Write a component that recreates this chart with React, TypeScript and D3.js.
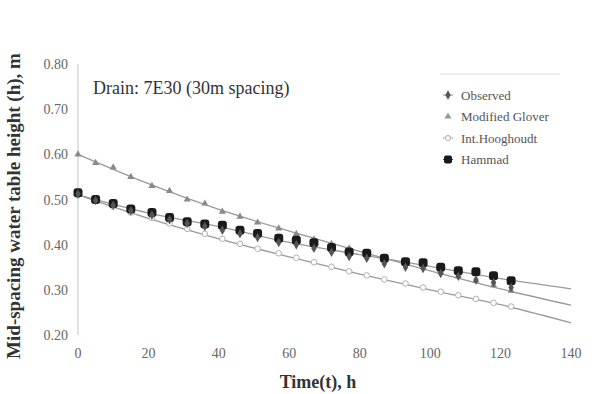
import { useRef, useEffect } from "react";
import * as d3 from "d3";

// sampling times (h)
const times = [0, 5, 10, 15, 21, 26, 31, 36, 41, 46, 51, 57, 62, 67, 72, 77, 82, 87, 93, 98, 103, 108, 113, 118, 123];

const observed = [0.512, 0.498, 0.487, 0.475, 0.465, 0.455, 0.447, 0.44, 0.432, 0.424, 0.416, 0.405, 0.4, 0.392, 0.383, 0.374, 0.37, 0.358, 0.35, 0.347, 0.336, 0.33, 0.322, 0.316, 0.305];
const glover = [0.6, 0.581, 0.571, 0.55, 0.53, 0.519, 0.5, 0.491, 0.473, 0.462, 0.449, 0.436, 0.424, 0.412, 0.402, 0.392, 0.381, 0.371, 0.36, 0.35, 0.34, 0.33, 0.32, 0.31, 0.298];
const hooghoudt = [0.51, 0.497, 0.484, 0.471, 0.459, 0.447, 0.435, 0.424, 0.413, 0.402, 0.391, 0.381, 0.371, 0.361, 0.351, 0.341, 0.332, 0.323, 0.314, 0.305, 0.296, 0.288, 0.28, 0.271, 0.263];
const hammad = [0.515, 0.5, 0.491, 0.479, 0.471, 0.46, 0.451, 0.446, 0.443, 0.432, 0.425, 0.414, 0.41, 0.404, 0.394, 0.384, 0.381, 0.37, 0.362, 0.36, 0.35, 0.342, 0.34, 0.331, 0.32];

// trend lines drawn out to 140 h
const lineTimes = [0, 20, 40, 60, 80, 100, 120, 140];
const hammadLine = [0.51, 0.47, 0.44, 0.405, 0.378, 0.352, 0.325, 0.302];
const gloverLine = [0.6, 0.535, 0.478, 0.43, 0.385, 0.342, 0.302, 0.266];
const hooghoudtLine = [0.51, 0.458, 0.413, 0.373, 0.335, 0.3, 0.267, 0.227];

const xTicks = [0, 20, 40, 60, 80, 100, 120, 140];
const yTicks = [0.2, 0.3, 0.4, 0.5, 0.6, 0.7, 0.8];
const legendNames = ["Observed", "Modified Glover", "Int.Hooghoudt", "Hammad"];

const width = 598;
const height = 394;
const font = "Liberation Serif, Times New Roman, serif";

const App = () => {
  const svgRef = useRef<SVGSVGElement>(null);

  useEffect(() => {
    document.body.style.margin = "0";
    const svg = d3.select(svgRef.current);
    svg.selectAll("*").remove();

    const x = d3.scaleLinear().domain([0, 140]).range([78, 571]);
    const y = d3.scaleLinear().domain([0.2, 0.8]).range([335, 64]);

    // y axis line
    svg.append("line")
      .attr("x1", x(0)).attr("x2", x(0))
      .attr("y1", y(0.8)).attr("y2", y(0.2))
      .attr("stroke", "#d8d8d8").attr("stroke-width", 1.5);

    svg.append("g")
      .selectAll("text")
      .data(yTicks)
      .join("text")
      .attr("x", 68)
      .attr("y", (d) => y(d) + 5)
      .attr("text-anchor", "end")
      .style("font-family", font)
      .attr("font-size", 14)
      .attr("fill", "#666")
      .text((d) => d.toFixed(2));

    svg.append("g")
      .selectAll("text")
      .data(xTicks)
      .join("text")
      .attr("x", (d) => x(d))
      .attr("y", 358)
      .attr("text-anchor", "middle")
      .style("font-family", font)
      .attr("font-size", 14)
      .attr("fill", "#666")
      .text((d) => d);

    // axis titles
    svg.append("text")
      .attr("x", 318).attr("y", 388)
      .attr("text-anchor", "middle")
      .style("font-family", font).attr("font-size", 18).attr("font-weight", "bold")
      .attr("fill", "#333")
      .text("Time(t), h");

    svg.append("text")
      .attr("transform", "translate(20,206) rotate(-90)")
      .attr("text-anchor", "middle")
      .style("font-family", font).attr("font-size", 19).attr("font-weight", "bold")
      .attr("fill", "#333")
      .text("Mid-spacing water table height (h), m");

    svg.append("text")
      .attr("x", 93).attr("y", 94)
      .style("font-family", font).attr("font-size", 18)
      .attr("fill", "#333")
      .text("Drain: 7E30 (30m spacing)");

    // lines
    const line = d3.line<number>()
      .x((_, i) => x(lineTimes[i]))
      .y((d) => y(d))
      .curve(d3.curveMonotoneX);

    [hooghoudtLine, gloverLine, hammadLine].forEach((vals) => {
      svg.append("path")
        .attr("d", line(vals))
        .attr("fill", "none")
        .attr("stroke", "#9a9a9a")
        .attr("stroke-width", 1.3);
    });

    // markers
    svg.append("g")
      .selectAll("circle")
      .data(hooghoudt)
      .join("circle")
      .attr("cx", (_, i) => x(times[i]))
      .attr("cy", (d) => y(d))
      .attr("r", 2.8)
      .attr("fill", "white")
      .attr("stroke", "#b0b0b0")
      .attr("stroke-width", 1);

    const tri = d3.symbol().type(d3.symbolTriangle).size(22);
    svg.append("g")
      .selectAll("path")
      .data(glover)
      .join("path")
      .attr("d", tri)
      .attr("transform", (d, i) => `translate(${x(times[i])},${y(d)})`)
      .attr("fill", "#8a8a8a");

    svg.append("g")
      .selectAll("rect")
      .data(hammad)
      .join("rect")
      .attr("x", (_, i) => x(times[i]) - 4.5)
      .attr("y", (d) => y(d) - 4.5)
      .attr("width", 9)
      .attr("height", 9)
      .attr("rx", 3)
      .attr("fill", "#1a1a1a");

    const dia = d3.symbol().type(d3.symbolDiamond).size(26);
    svg.append("g")
      .selectAll("path")
      .data(observed)
      .join("path")
      .attr("d", dia)
      .attr("transform", (d, i) => `translate(${x(times[i])},${y(d)})`)
      .attr("fill", "#555");

    // legend
    svg.append("line")
      .attr("x1", 440).attr("x2", 560).attr("y1", 74).attr("y2", 74)
      .attr("stroke", "#eee").attr("stroke-width", 2);

    const leg = svg.append("g");
    legendNames.forEach((name, i) => {
      const ly = 95 + i * 21.5;
      const g = leg.append("g").attr("transform", `translate(448,${ly})`);
      if (i === 0) {
        g.append("line").attr("x1", -5).attr("x2", 5).attr("stroke", "#888");
        g.append("path").attr("d", dia).attr("fill", "#555");
      } else if (i === 1) {
        g.append("path").attr("d", tri).attr("fill", "#999");
      } else if (i === 2) {
        g.append("line").attr("x1", -5).attr("x2", 5).attr("stroke", "#aaa");
        g.append("circle").attr("r", 2.5).attr("fill", "white").attr("stroke", "#aaa");
      } else {
        g.append("line").attr("x1", -5).attr("x2", 5).attr("stroke", "#444");
        g.append("rect").attr("x", -4).attr("y", -4).attr("width", 8).attr("height", 8).attr("rx", 2).attr("fill", "#1a1a1a");
      }
      g.append("text")
        .attr("x", 13).attr("y", 4.5)
        .style("font-family", font).attr("font-size", 13)
        .attr("fill", "#555")
        .text(name);
    });
  }, []);

  return <svg ref={svgRef} width={width} height={height} style={{ display: "block", background: "white" }} />;
};

export default App;
